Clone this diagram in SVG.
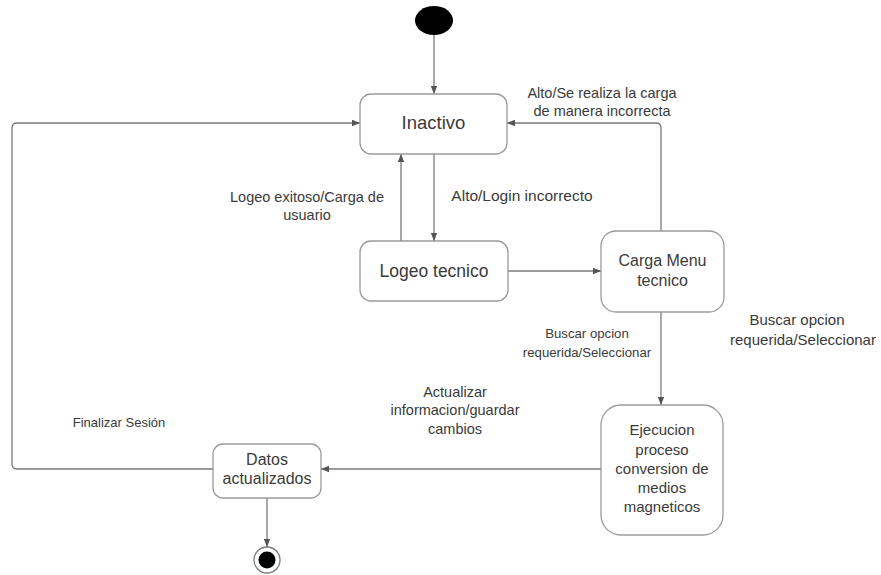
<svg xmlns="http://www.w3.org/2000/svg" width="881" height="575" viewBox="0 0 881 575">
  <style>
    .state { fill: #ffffff; stroke: #9a9a9a; stroke-width: 1.3; }
    .name { font-family: "Liberation Sans", Arial, sans-serif; fill: #3a3a3a; text-anchor: middle; }
    .lbl { font-family: "Liberation Sans", Arial, sans-serif; fill: #3a3a3a; text-anchor: middle; }
    .edge { fill: none; stroke: #7a7a7a; stroke-width: 1.3; marker-end: url(#arrow); }
  </style>
  <defs>
    <marker id="arrow" viewBox="0 0 10 10" refX="10" refY="5" markerWidth="8" markerHeight="8" markerUnits="userSpaceOnUse" orient="auto">
      <path d="M0,1 L10,5 L0,9 z" fill="#555555"/>
    </marker>
  </defs>
  <rect width="881" height="575" fill="#ffffff"/>

  <!-- transitions -->
  <g id="connectors">
    <path class="edge" d="M434,35 L434,94"/>
    <path class="edge" d="M213,469 L17,469 Q12,469 12,464 L12,128 Q12,123 17,123 L360,123"/>
    <path class="edge" d="M661,231 L661,128 Q661,123 656,123 L507,123"/>
    <path class="edge" d="M401,241 L401,154"/>
    <path class="edge" d="M434,154 L434,241"/>
    <path class="edge" d="M508,271 L601,271"/>
    <path class="edge" d="M661,312 L661,405"/>
    <path class="edge" d="M601,469 L321,469"/>
    <path class="edge" d="M267,498 L267,547"/>
  </g>

  <!-- transition labels -->
  <g id="labels">
    <text class="lbl" font-size="14.5" x="602" y="98">Alto/Se realiza la carga</text>
    <text class="lbl" font-size="14.5" x="602" y="116">de manera incorrecta</text>
    <text class="lbl" font-size="14.5" x="307" y="202">Logeo exitoso/Carga de</text>
    <text class="lbl" font-size="14.5" x="307" y="220">usuario</text>
    <text class="lbl" font-size="15.5" x="522" y="201">Alto/Login incorrecto</text>
    <text class="lbl" font-size="13.2" x="587" y="338">Buscar opcion</text>
    <text class="lbl" font-size="13.2" x="587" y="357">requerida/Seleccionar</text>
    <text class="lbl" font-size="15" x="797" y="325">Buscar opcion</text>
    <text class="lbl" font-size="15" x="803" y="345">requerida/Seleccionar</text>
    <text class="lbl" font-size="14.5" x="455" y="397">Actualizar</text>
    <text class="lbl" font-size="14.5" x="455" y="415">informacion/guardar</text>
    <text class="lbl" font-size="14.5" x="455" y="434">cambios</text>
    <text class="lbl" font-size="13" x="119" y="427">Finalizar Sesión</text>
  </g>

  <g id="initial">
    <ellipse cx="434" cy="20.5" rx="19" ry="14.5" fill="#000000"/>
  </g>

  <g id="inactivo">
    <rect class="state" x="360" y="94" width="147" height="60" rx="11"/>
    <text class="name" font-size="18.5" x="433.5" y="129">Inactivo</text>
  </g>

  <g id="logeo-tecnico">
    <rect class="state" x="360" y="241" width="148" height="60" rx="11"/>
    <text class="name" font-size="17.5" x="434" y="277">Logeo tecnico</text>
  </g>

  <g id="carga-menu">
    <rect class="state" x="601" y="231" width="123" height="81" rx="15"/>
    <text class="name" font-size="16" x="662.5" y="266">Carga Menu</text>
    <text class="name" font-size="16" x="662.5" y="286">tecnico</text>
  </g>

  <g id="ejecucion">
    <rect class="state" x="601" y="405" width="122" height="130" rx="20"/>
    <text class="name" font-size="15" x="662" y="435">Ejecucion</text>
    <text class="name" font-size="15" x="662" y="455">proceso</text>
    <text class="name" font-size="15" x="662" y="474">conversion de</text>
    <text class="name" font-size="15" x="662" y="493">medios</text>
    <text class="name" font-size="15" x="662" y="512">magneticos</text>
  </g>

  <g id="datos-actualizados">
    <rect class="state" x="213" y="444" width="108" height="54" rx="10"/>
    <text class="name" font-size="16" x="267" y="465">Datos</text>
    <text class="name" font-size="16" x="267" y="484">actualizados</text>
  </g>

  <g id="final">
    <circle cx="267" cy="560" r="13" fill="#ffffff" stroke="#7a7a7a" stroke-width="1.3"/>
    <circle cx="267" cy="560" r="8.5" fill="#000000"/>
  </g>
</svg>
